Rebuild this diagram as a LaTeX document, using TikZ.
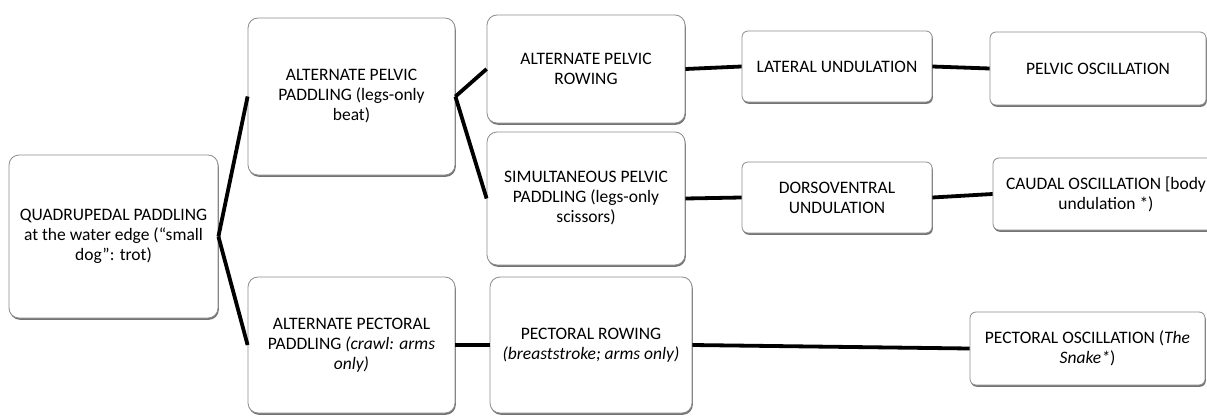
\documentclass[tikz,border=0pt]{standalone}
\usepackage{fontspec}
\setsansfont{Carlito}
\usetikzlibrary{positioning, shadows}
\definecolor{BoxLine}{rgb}{0.55, 0.55, 0.55}
\definecolor{ShadowGray}{rgb}{0.45, 0.45, 0.45}

\begin{document}
\begin{tikzpicture}[
    x=1pt, y=-1pt,
    font=\sffamily\fontsize{17.5}{20}\selectfont,
    stage/.style={draw=BoxLine, line width=0.8pt, fill=white, align=center,
        rounded corners=10pt, inner sep=2pt,
        drop shadow={shadow xshift=0.8pt, shadow yshift=-1.8pt,
            fill=ShadowGray, opacity=1}},
    slim/.style={stage, rounded corners=6pt},
    link/.style={line width=3.8pt, black},
]
\useasboundingbox (0,0) rectangle (1207,415);

% tronco
\node[stage, minimum width=209pt, minimum height=163pt] (quad) at (113.5,236.5)
    {QUADRUPEDAL PADDLING\\at the water edge (“small\\dog”: trot)};

% rama pelvica
\node[stage, minimum width=207pt, minimum height=157pt] (altpelpad) at (351.5,96.5)
    {ALTERNATE PELVIC\\PADDLING (legs-only\\beat)};
\node[stage, minimum width=198pt, minimum height=108pt] (altpelrow) at (586,69)
    {ALTERNATE PELVIC\\ROWING};
\node[stage, minimum width=198pt, minimum height=133pt] (simpelpad) at (586,198.5)
    {SIMULTANEOUS PELVIC\\PADDLING (legs-only\\scissors)};
\node[slim, minimum width=190pt, minimum height=71pt] (latund) at (837,66.5)
    {LATERAL UNDULATION};
\node[slim, minimum width=216pt, minimum height=73pt] (pelosc) at (1098,68.5)
    {PELVIC OSCILLATION};
\node[slim, minimum width=190pt, minimum height=71pt] (dorund) at (837,197.5)
    {DORSOVENTRAL\\UNDULATION};
\node[slim, minimum width=226pt, minimum height=72pt] (cauosc) at (1106,194)
    {CAUDAL OSCILLATION [body\\undulation *)};

% rama pectoral
\node[stage, minimum width=207pt, minimum height=136pt] (altpecpad) at (351.5,345)
    {ALTERNATE PECTORAL\\PADDLING \textit{(crawl: arms}\\\textit{only)}};
\node[stage, minimum width=202pt, minimum height=136pt] (pecrow) at (591,345)
    {PECTORAL ROWING\\\textit{(breaststroke; arms only)}};
\node[slim, minimum width=235pt, minimum height=73pt] (pecosc) at (1087.5,348.5)
    {PECTORAL OSCILLATION (\textit{The}\\\textit{Snake*})};

% enlaces
\draw[link] (quad.east) -- (altpelpad.west);
\draw[link] (quad.east) -- (altpecpad.west);
\draw[link] (altpelpad.east) -- (altpelrow.west);
\draw[link] (altpelpad.east) -- (simpelpad.west);
\draw[link] (altpelrow.east) -- (latund.west);
\draw[link] (latund.east) -- (pelosc.west);
\draw[link] (simpelpad.east) -- (dorund.west);
\draw[link] (dorund.east) -- (cauosc.west);
\draw[link] (altpecpad.east) -- (pecrow.west);
\draw[link] (pecrow.east) -- (pecosc.west);

\end{tikzpicture}
\end{document}
